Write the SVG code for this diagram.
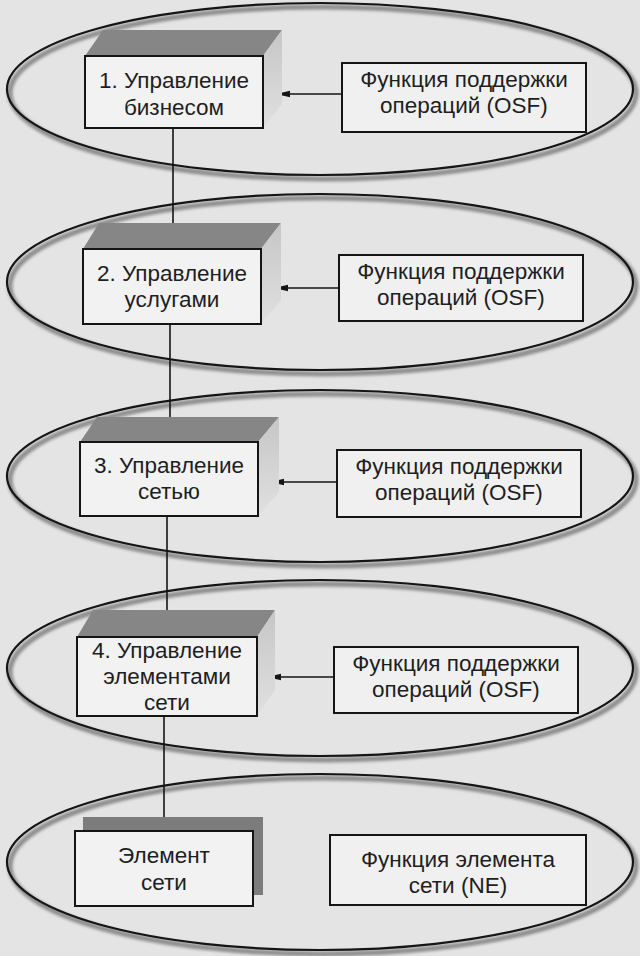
<svg xmlns="http://www.w3.org/2000/svg" width="640" height="956" viewBox="0 0 640 956">
<defs>
<style>
.bg{fill:#e4e4e4}
.ell{fill:none;stroke:#151515;stroke-width:2.2}
.shd{fill:none;stroke:#8c8c8c;stroke-width:5}
.front{fill:#f2f2f2;stroke:#151515;stroke-width:2}
.top{fill:#868686}
.side{fill:url(#sideg)}
.osf{fill:#f0f0f0;stroke:#151515;stroke-width:2}
.shadowbox{fill:#7c7c7c}
.t{font-family:"Liberation Sans","DejaVu Sans",sans-serif;font-size:22.5px;fill:#1e1e1e;text-anchor:middle}
.con{stroke:#151515;stroke-width:1.6;fill:none}
</style>
<linearGradient id="sideg" x1="0" y1="0" x2="0" y2="1">
<stop offset="0" stop-color="#c6c6c6"/>
<stop offset="1" stop-color="#e0e0e0"/>
</linearGradient>
<filter id="blur" x="-5%" y="-10%" width="110%" height="120%"><feGaussianBlur stdDeviation="1.6"/></filter>
<marker id="ah" viewBox="0 0 14 8" refX="14" refY="4" markerWidth="14" markerHeight="8" markerUnits="userSpaceOnUse" orient="auto">
<path d="M0,0.8 L14,4 L0,7.2 Z" fill="#151515"/>
</marker>
</defs>
<rect class="bg" x="0" y="0" width="640" height="956"/>

<g id="layer1">
<ellipse class="shd" filter="url(#blur)" cx="323" cy="93" rx="313" ry="86"/>
<ellipse class="ell" cx="320" cy="89" rx="313" ry="86"/>
</g>
<g id="layer2">
<ellipse class="shd" filter="url(#blur)" cx="323" cy="286" rx="313" ry="88"/>
<ellipse class="ell" cx="320" cy="282" rx="313" ry="88"/>
</g>
<g id="layer3">
<ellipse class="shd" filter="url(#blur)" cx="323" cy="480" rx="313" ry="86"/>
<ellipse class="ell" cx="320" cy="476" rx="313" ry="86"/>
</g>
<g id="layer4">
<ellipse class="shd" filter="url(#blur)" cx="323" cy="672" rx="313" ry="88"/>
<ellipse class="ell" cx="320" cy="668" rx="313" ry="88"/>
</g>
<g id="layer5">
<ellipse class="shd" filter="url(#blur)" cx="323" cy="866" rx="313" ry="88"/>
<ellipse class="ell" cx="320" cy="862" rx="313" ry="88"/>
</g>

<g id="connectors">
<line class="con" x1="173" y1="128" x2="173" y2="237"/>
<line class="con" x1="170" y1="324" x2="170" y2="430"/>
<line class="con" x1="167" y1="516" x2="167" y2="623"/>
<line class="con" x1="164" y1="716" x2="164" y2="831"/>
<line class="con" x1="342" y1="94" x2="276" y2="94" marker-end="url(#ah)"/>
<line class="con" x1="339" y1="288" x2="274" y2="288" marker-end="url(#ah)"/>
<line class="con" x1="337" y1="482" x2="270" y2="482" marker-end="url(#ah)"/>
<line class="con" x1="334" y1="677" x2="267" y2="677" marker-end="url(#ah)"/>
</g>

<g id="mgmt-business">
<polygon class="top" points="85,56 103,30 282,30 263,56"/>
<polygon class="side" points="263,56 282,30 282,104 263,128"/>
<rect class="front" x="85" y="56" width="178" height="72"/>
<text class="t" x="174" y="88">1. Управление</text>
<text class="t" x="174" y="115">бизнесом</text>
</g>
<g id="osf1">
<rect class="osf" x="342" y="63" width="244" height="69"/>
<text class="t" x="464" y="87">Функция поддержки</text>
<text class="t" x="464" y="113">операций (OSF)</text>
</g>

<g id="mgmt-service">
<polygon class="top" points="83,249 99,223 281,223 261,249"/>
<polygon class="side" points="261,249 281,223 281,300 261,324"/>
<rect class="front" x="83" y="249" width="178" height="75"/>
<text class="t" x="172" y="281">2. Управление</text>
<text class="t" x="172" y="307">услугами</text>
</g>
<g id="osf2">
<rect class="osf" x="339" y="255" width="244" height="66"/>
<text class="t" x="461" y="279">Функция поддержки</text>
<text class="t" x="461" y="305">операций (OSF)</text>
</g>

<g id="mgmt-network">
<polygon class="top" points="80,442 97,417 279,417 258,442"/>
<polygon class="side" points="258,442 279,417 279,492 258,516"/>
<rect class="front" x="80" y="442" width="178" height="74"/>
<text class="t" x="169" y="473">3. Управление</text>
<text class="t" x="169" y="499">сетью</text>
</g>
<g id="osf3">
<rect class="osf" x="337" y="450" width="244" height="67"/>
<text class="t" x="459" y="474">Функция поддержки</text>
<text class="t" x="459" y="500">операций (OSF)</text>
</g>

<g id="mgmt-elements">
<polygon class="top" points="77,637 93,610 275,610 257,637"/>
<polygon class="side" points="257,637 275,610 275,690 257,716"/>
<rect class="front" x="77" y="637" width="180" height="79"/>
<text class="t" x="167" y="658">4. Управление</text>
<text class="t" x="167" y="684">элементами</text>
<text class="t" x="167" y="710">сети</text>
</g>
<g id="osf4">
<rect class="osf" x="334" y="647" width="244" height="66"/>
<text class="t" x="456" y="671">Функция поддержки</text>
<text class="t" x="456" y="697">операций (OSF)</text>
</g>

<g id="network-element">
<rect class="shadowbox" x="83" y="817" width="180" height="78"/>
<rect class="front" x="75" y="831" width="178" height="75"/>
<text class="t" x="164" y="863">Элемент</text>
<text class="t" x="164" y="890">сети</text>
</g>
<g id="ne-function">
<rect class="osf" x="330" y="835" width="256" height="70"/>
<text class="t" x="458" y="867">Функция элемента</text>
<text class="t" x="458" y="893">сети (NE)</text>
</g>
</svg>
